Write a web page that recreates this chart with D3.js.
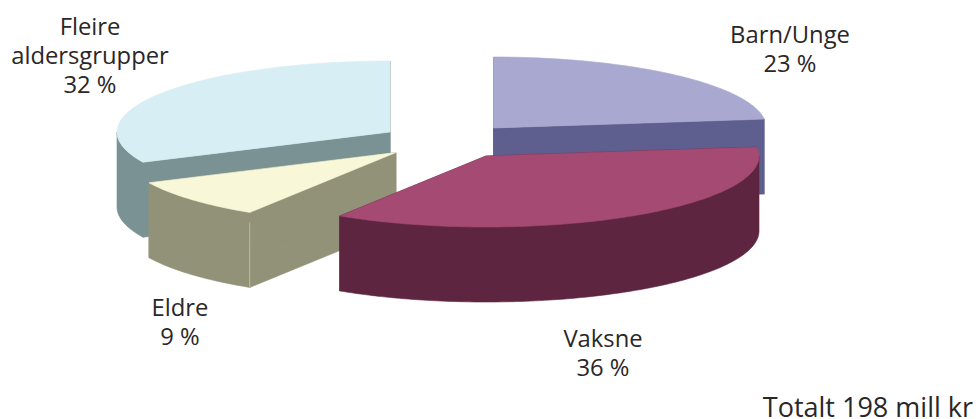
<!DOCTYPE html>
<html>
<head>
<meta charset="utf-8">
<script src="https://cdn.jsdelivr.net/npm/d3@7/dist/d3.min.js"></script>
<style>
html,body{margin:0;padding:0;background:#fff;}
svg{display:block;}
text{font-family:"Open Sans","Noto Sans",sans-serif;font-size:23.8px;fill:#2a2728;text-anchor:middle;}
</style>
</head>
<body>
<svg id="chart" width="976" height="419"></svg>
<script>
const categories = ["Barn/Unge", "Vaksne", "Eldre", "Fleire aldersgrupper"];
const values = [23, 36, 9, 32];
const labelLines = [["Barn/Unge", "23 %"], ["Vaksne", "36 %"], ["Eldre", "9 %"], ["Fleire", "aldersgrupper", "32 %"]];
const topColors = ["#a8a8d0", "#a44a73", "#f8f8d8", "#d6eef4"];
const sideColors = ["#5f5f8f", "#5d2540", "#929278", "#7a9293"];
const note = "Totalt 198 mill kr";

const apexX = [493.5, 486, 396, 390];
const apexY = [128, 156, 152.5, 132];
const labelX = [790, 603, 180, 90];
const labelY = [43, 347, 316, 35];
const lineGap = 29;
const radiusX = 273, radiusY = 71, depth = 75;
const drawOrder = [3, 0, 2, 1];

const svg = d3.select("#chart");
const arcs = d3.pie().sort(null).value(d => d).startAngle(0).endAngle(2 * Math.PI)(values);
const line = d3.line();
const step = Math.PI / 180;

function samples(a0, a1) {
  const n = Math.max(1, Math.ceil((a1 - a0) / step));
  return d3.range(n + 1).map(i => a0 + (a1 - a0) * i / n);
}

drawOrder.forEach(i => {
  const arc = arcs[i];
  const x = d3.scaleLinear().domain([-1, 1]).range([apexX[i] - radiusX, apexX[i] + radiusX]);
  const y = d3.scaleLinear().domain([-1, 1]).range([apexY[i] - radiusY, apexY[i] + radiusY]);
  const pt = a => [x(Math.sin(a)), y(-Math.cos(a))];
  const down = p => [p[0], p[1] + depth];
  const apex = [x(0), y(0)];
  const g = svg.append("g").attr("class", "slice");
  const side = pts => g.append("path")
    .attr("d", line(pts) + "Z")
    .attr("fill", sideColors[i])
    .attr("stroke", sideColors[i])
    .attr("stroke-width", 0.6);

  [arc.startAngle, arc.endAngle].forEach(a => {
    const e = pt(a);
    side([apex, e, down(e), down(apex)]);
  });

  const f0 = Math.max(arc.startAngle, Math.PI / 2);
  const f1 = Math.min(arc.endAngle, 1.5 * Math.PI);
  if (f1 > f0) {
    const rim = samples(f0, f1).map(pt);
    side(rim.concat(rim.map(down).reverse()));
  }

  // thin light seam down the outer corner of each wall
  if (arc.startAngle > Math.PI / 2 && arc.endAngle < 2 * Math.PI) {
    const c = pt(arc.startAngle);
    if (i !== 1) g.append("line")
      .attr("x1", c[0]).attr("y1", c[1] + 10)
      .attr("x2", c[0]).attr("y2", c[1] + depth)
      .attr("stroke", "#d8d8c8").attr("stroke-width", 0.8).attr("opacity", 0.7);
  }

  const top = [apex].concat(samples(arc.startAngle, arc.endAngle).map(pt));
  g.append("path")
    .attr("d", line(top) + "Z")
    .attr("fill", topColors[i])
    .attr("stroke", topColors[i])
    .attr("stroke-width", 0.6);
});

labelLines.forEach((lines, i) => {
  const t = svg.append("text").attr("class", "label");
  lines.forEach((s, k) => {
    t.append("tspan").attr("x", labelX[i]).attr("y", labelY[i] + k * lineGap).text(s);
  });
});

svg.append("text").attr("x", 973).attr("y", 417)
  .style("text-anchor", "end").style("font-size", "27px").text(note);
</script>
</body>
</html>
